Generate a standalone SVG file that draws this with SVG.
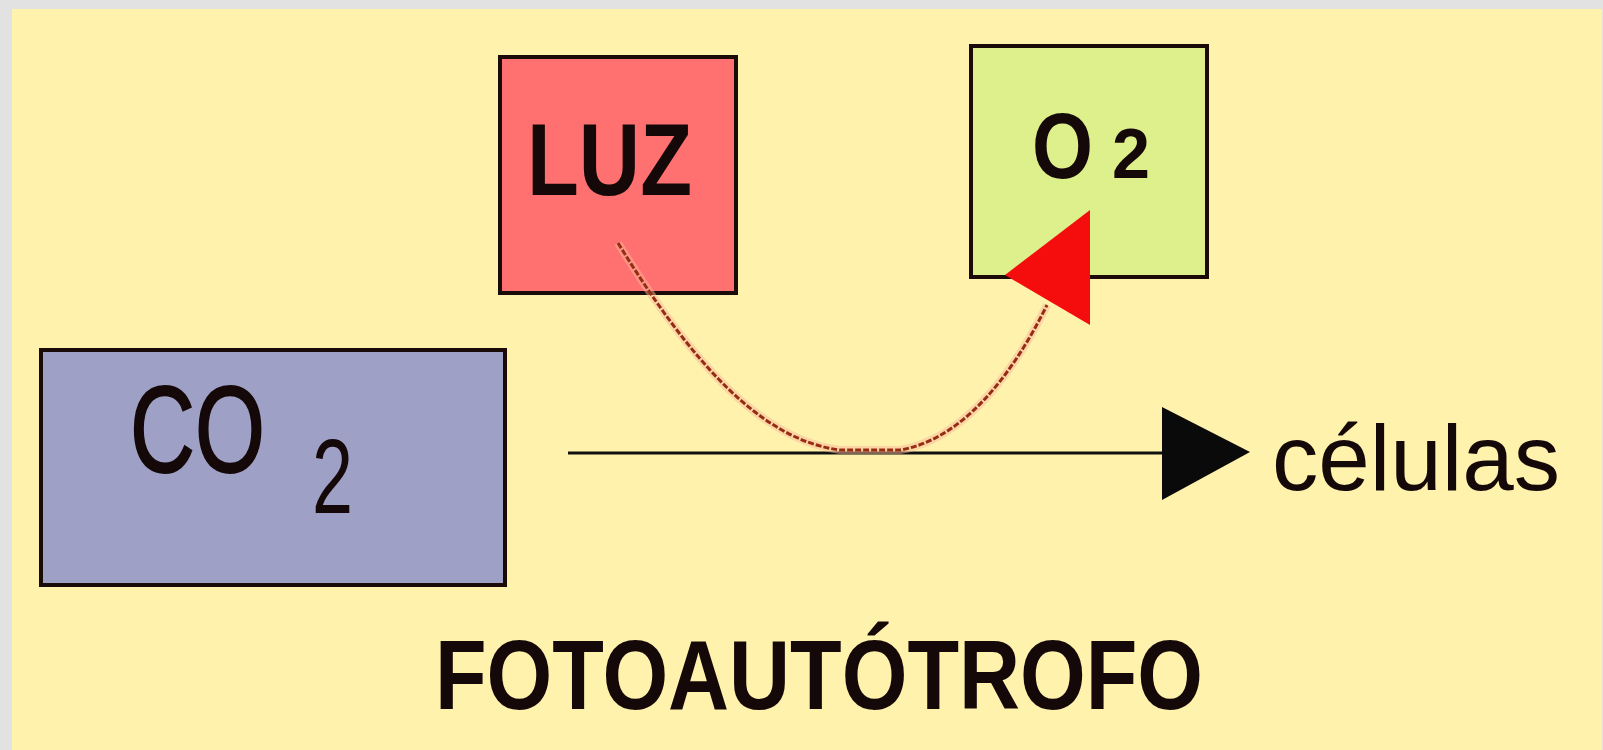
<svg xmlns="http://www.w3.org/2000/svg" width="1603" height="750" viewBox="0 0 1603 750">
  <style>
    .box { stroke: #1a0a08; stroke-width: 4; }
    .lbl { font-family: "Liberation Sans", Arial, sans-serif; fill: #140808; }
    .bold { font-weight: bold; }
    .arc { fill: none; }
  </style>

  <!-- page frame -->
  <rect x="0" y="0" width="1603" height="750" fill="#e2e2e2"/>
  <rect x="12" y="9" width="1590" height="741" fill="#fef2ac"/>

  <g id="luz">
    <rect class="box" x="500" y="57" width="236" height="236" fill="#ff7070"/>
    <text class="lbl bold" x="527" y="195" font-size="102" textLength="165" lengthAdjust="spacingAndGlyphs">LUZ</text>
  </g>

  <g id="o2">
    <rect class="box" x="971" y="46" width="236" height="231" fill="#def08c"/>
    <text class="lbl bold" x="1032" y="178" font-size="92" textLength="61" lengthAdjust="spacingAndGlyphs">O</text>
    <text class="lbl bold" x="1112" y="178" font-size="71" textLength="38" lengthAdjust="spacingAndGlyphs">2</text>
  </g>

  <g id="co2">
    <rect class="box" x="41" y="350" width="464" height="235" fill="#9ea1c5"/>
    <text class="lbl" x="130" y="472" font-size="122" textLength="135" lengthAdjust="spacingAndGlyphs" stroke="#140808" stroke-width="2">CO</text>
    <text class="lbl" x="312" y="513" font-size="106" textLength="41" lengthAdjust="spacingAndGlyphs">2</text>
  </g>

  <g id="celulas">
    <text class="lbl" x="1272" y="490" font-size="93" textLength="288" lengthAdjust="spacingAndGlyphs">células</text>
  </g>

  <g id="title">
    <text class="lbl bold" x="435" y="709" font-size="99" textLength="768" lengthAdjust="spacingAndGlyphs">FOTOAUTÓTROFO</text>
  </g>

  <!-- connectors, drawn over the boxes -->
  <g id="connectors">
    <!-- CO2 flow to cells -->
    <line x1="568" y1="453" x2="1164" y2="453" stroke="#111" stroke-width="3"/>
    <polygon points="1162,407 1250,452 1162,500" fill="#0a0a0a"/>
    <!-- light-driven arc towards O2 -->
    <path class="arc" d="M618,243 C690,360 760,440 840,450 L900,450 C960,440 1010,380 1047,305" stroke="#f9b89c" stroke-width="8" stroke-opacity="0.5"/>
    <path class="arc" d="M618,243 C690,360 760,440 840,450 L900,450 C960,440 1010,380 1047,305" stroke="#962d12" stroke-width="3" stroke-dasharray="6 2"/>
    <polygon points="1090,210 1090,325 1005,275" fill="#f50c0c"/>
  </g>
</svg>
